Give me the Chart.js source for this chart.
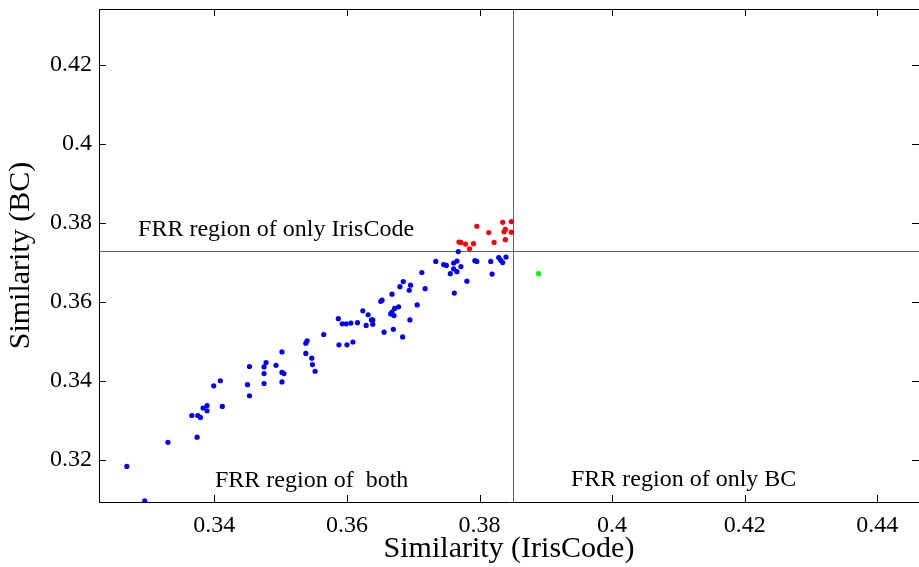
<!DOCTYPE html>
<html>
<head>
<meta charset="utf-8">
<script src="https://cdn.jsdelivr.net/npm/chart.js@4"></script>
<style>
  html, body { margin: 0; padding: 0; background: #fff; }
  #wrap { width: 919px; height: 567px; position: relative; }
</style>
</head>
<body>
<div id="wrap"><canvas id="scatterChart"></canvas></div>
<script>
// points below the IrisCode threshold
const blueX = [0.3268, 0.3295, 0.3330, 0.3374, 0.3366, 0.3375, 0.3379, 0.3383, 0.3389, 0.3389,
  0.3399, 0.3409, 0.3412, 0.3450, 0.3453, 0.3453, 0.3475, 0.3478, 0.3475, 0.3475,
  0.3493, 0.3502, 0.3502, 0.3505, 0.3502, 0.3538, 0.3540, 0.3538, 0.3547, 0.3548,
  0.3552, 0.3565, 0.3587, 0.3593, 0.3599, 0.3606, 0.3616, 0.3588, 0.3600, 0.3609,
  0.3624, 0.3632, 0.3629, 0.3637, 0.3639, 0.3639, 0.3656, 0.3670, 0.3684, 0.3695,
  0.3651, 0.3653, 0.3668, 0.3666, 0.3668, 0.3671, 0.3672, 0.3678, 0.3680, 0.3685,
  0.3696, 0.3694, 0.3706, 0.3718, 0.3713, 0.3734, 0.3746, 0.3750, 0.3756, 0.3761,
  0.3766, 0.3761, 0.3766, 0.3772, 0.3762, 0.3768, 0.3781, 0.3793, 0.3796, 0.3817,
  0.3819, 0.3829, 0.3832, 0.3835, 0.3840];
const blueY = [0.3184, 0.3097, 0.3245, 0.3258, 0.3313, 0.3313, 0.3308, 0.3332, 0.3338, 0.3325,
  0.3388, 0.3401, 0.3336, 0.3391, 0.3363, 0.3437, 0.3436, 0.3447, 0.3419, 0.3394,
  0.3440, 0.3474, 0.3422, 0.3419, 0.3398, 0.3496, 0.3502, 0.3470, 0.3458, 0.3442,
  0.3425, 0.3518, 0.3558, 0.3545, 0.3545, 0.3547, 0.3548, 0.3492, 0.3492, 0.3499,
  0.3578, 0.3568, 0.3541, 0.3555, 0.3555, 0.3544, 0.3524, 0.3531, 0.3512, 0.3555,
  0.3602, 0.3605, 0.3620, 0.3570, 0.3575, 0.3566, 0.3584, 0.3588, 0.3639, 0.3652,
  0.3643, 0.3630, 0.3593, 0.3634, 0.3675, 0.3703, 0.3695, 0.3693, 0.3672, 0.3699,
  0.3704, 0.3684, 0.3677, 0.3690, 0.3623, 0.3728, 0.3653, 0.3705, 0.3703, 0.3703,
  0.3671, 0.3713, 0.3706, 0.3700, 0.3714];

// points above the BC threshold
const redX = [0.3769, 0.3772, 0.3779, 0.3785, 0.3791, 0.3796, 0.3814, 0.3822, 0.3835, 0.3848,
  0.3839, 0.3837, 0.3848, 0.3839];
const redY = [0.3752, 0.3751, 0.3747, 0.3735, 0.3748, 0.3792, 0.3776, 0.3751, 0.3802, 0.3804,
  0.3784, 0.3778, 0.3777, 0.3758];

// the lone point past the IrisCode threshold
const greenX = [0.3889];
const greenY = [0.3672];

const xTicks = [0.34, 0.36, 0.38, 0.4, 0.42, 0.44];
const yTicks = [0.32, 0.34, 0.36, 0.38, 0.4, 0.42];

const thresholdX = 0.385;
const thresholdY = 0.373;

// region captions, anchored in data units (x = left edge, y = baseline)
const regionLabels = [
  { text: 'FRR region of only IrisCode', x: 0.3285, y: 0.3767 },
  { text: 'FRR region of  both', x: 0.3401, y: 0.3133 },
  { text: 'FRR region of only BC', x: 0.3938, y: 0.3135 }
];

const toPoints = (xs, ys) => xs.map((x, i) => ({ x: x, y: ys[i] }));
const fmt = (v) => String(+v.toFixed(2));

const serif = "'Liberation Serif', 'Times New Roman', serif";
Chart.defaults.font.family = serif;
Chart.defaults.color = '#000';

const boxPlugin = {
  id: 'boxPlugin',
  beforeDatasetsDraw(chart) {
    const { ctx, chartArea: a, scales } = chart;
    const xs = scales.x, ys = scales.y;
    ctx.save();
    // threshold lines
    ctx.strokeStyle = 'rgba(70, 70, 90, 0.85)';
    ctx.lineWidth = 1;
    const vx = Math.round(xs.getPixelForValue(thresholdX)) + 0.5;
    const hy = Math.round(ys.getPixelForValue(thresholdY)) + 0.5;
    ctx.beginPath();
    ctx.moveTo(vx, a.top); ctx.lineTo(vx, a.bottom);
    ctx.moveTo(a.left, hy); ctx.lineTo(a.right, hy);
    ctx.stroke();

    // frame top + inward ticks on all sides
    ctx.strokeStyle = '#000';
    const top = Math.round(a.top) + 0.5;
    ctx.beginPath();
    ctx.moveTo(a.left, top); ctx.lineTo(a.right, top);
    const len = 7;
    xTicks.forEach((v) => {
      const px = Math.round(xs.getPixelForValue(v)) + 0.5;
      ctx.moveTo(px, a.bottom); ctx.lineTo(px, a.bottom - len);
      ctx.moveTo(px, a.top); ctx.lineTo(px, a.top + len);
    });
    yTicks.forEach((v) => {
      const py = Math.round(ys.getPixelForValue(v)) + 0.5;
      ctx.moveTo(a.left, py); ctx.lineTo(a.left + len, py);
      ctx.moveTo(a.right, py); ctx.lineTo(a.right - len, py);
    });
    ctx.stroke();

    // captions
    ctx.fillStyle = '#000';
    ctx.font = '24px ' + serif;
    ctx.textAlign = 'left';
    ctx.textBaseline = 'alphabetic';
    regionLabels.forEach((l) => {
      ctx.fillText(l.text, xs.getPixelForValue(l.x), ys.getPixelForValue(l.y));
    });
    ctx.restore();
  }
};

new Chart(document.getElementById('scatterChart'), {
  type: 'scatter',
  data: {
    datasets: [
      { label: 'both', data: toPoints(blueX, blueY), backgroundColor: '#0000ff' },
      { label: 'only IrisCode', data: toPoints(redX, redY), backgroundColor: '#ff0000' },
      { label: 'only BC', data: toPoints(greenX, greenY), backgroundColor: '#00ff00' }
    ]
  },
  options: {
    responsive: true,
    maintainAspectRatio: false,
    animation: false,
    layout: { autoPadding: false, padding: { top: 9, right: 0, bottom: 0, left: 0 } },
    elements: { point: { radius: 2.6, borderWidth: 0, hoverRadius: 2.6 } },
    scales: {
      x: {
        type: 'linear',
        min: 0.3226,
        max: 0.4463,
        afterBuildTicks: (s) => { s.ticks = xTicks.map((v) => ({ value: v })); },
        afterFit: (s) => { s.height = 65; s.paddingLeft = 0; s.paddingRight = 0; },
        grid: { display: false, drawTicks: false },
        border: { display: true, color: '#000', width: 1 },
        ticks: { padding: 9, font: { size: 24 }, color: '#000', maxRotation: 0, callback: (v) => fmt(v) },
        title: { display: true, text: 'Similarity (IrisCode)', font: { size: 30 }, color: '#000', padding: { top: 0, bottom: 0 } }
      },
      y: {
        type: 'linear',
        min: 0.3094,
        max: 0.4342,
        afterBuildTicks: (s) => { s.ticks = yTicks.map((v) => ({ value: v })); },
        afterFit: (s) => { s.width = 99; s.paddingTop = 0; s.paddingBottom = 0; },
        grid: { display: false, drawTicks: false },
        border: { display: true, color: '#000', width: 1 },
        ticks: { padding: 7, font: { size: 24 }, color: '#000', callback: (v) => fmt(v) },
        title: { display: true, text: 'Similarity (BC)', font: { size: 30 }, color: '#000', padding: { top: 3, bottom: 0 } }
      }
    },
    plugins: {
      legend: { display: false },
      tooltip: { enabled: false }
    }
  },
  plugins: [boxPlugin]
});
</script>
</body>
</html>
